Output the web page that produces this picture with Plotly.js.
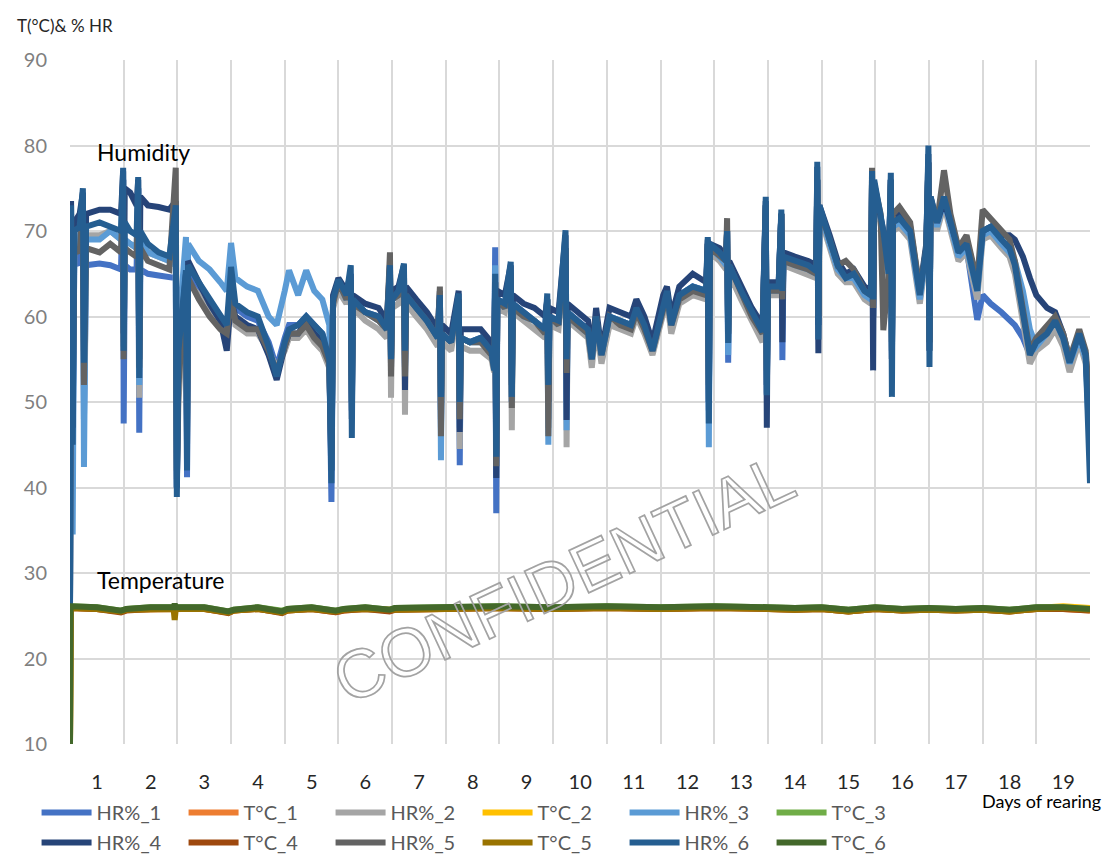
<!DOCTYPE html>
<html>
<head>
<meta charset="utf-8">
<script src="https://cdn.plot.ly/plotly-3.0.1.min.js"></script>
<style>
  html, body { margin: 0; padding: 0; background: #fff; }
  #chart { width: 1108px; height: 855px; }
  text[data-unformatted="CONFIDENTIAL"] { fill: none !important; stroke: #a3a3a3; stroke-width: 1.7px; }
</style>
</head>
<body>
<div id="chart"></div>
<script>
// ---- Data ----
const days = [0,0.02,0.05,0.08,0.18,0.24,0.26,0.30,0.55,0.75,
  0.95,0.99,1.00,1.02,1.12,1.24,1.27,1.29,1.31,1.45,
  1.65,1.85,1.97,1.99,2.02,2.10,2.16,2.18,2.20,2.40,
  2.60,2.80,2.92,3.00,3.08,3.30,3.50,3.70,3.85,4.00,
  4.08,4.25,4.40,4.55,4.70,4.83,4.87,4.90,5.00,5.15,
  5.23,5.25,5.27,5.50,5.75,5.90,5.96,5.98,6.00,6.12,
  6.22,6.24,6.26,6.45,6.65,6.85,6.89,6.91,6.93,7.10,
  7.24,7.26,7.28,7.45,7.65,7.85,7.90,7.92,7.94,7.96,
  8.10,8.21,8.23,8.25,8.45,8.65,8.85,8.89,8.91,8.93,
  9.10,9.23,9.25,9.27,9.45,9.65,9.72,9.80,9.90,10.05,
  10.25,10.45,10.55,10.70,10.85,11.05,11.12,11.20,11.35,11.60,
  11.85,11.88,11.90,11.92,12.10,12.22,12.24,12.26,12.28,12.50,
  12.70,12.90,12.96,12.98,13.00,13.20,13.25,13.27,13.29,13.50,
  13.75,13.90,13.92,13.94,13.96,14.15,14.30,14.45,14.60,14.80,
  14.92,14.94,14.96,14.98,15.10,15.15,15.25,15.29,15.31,15.33,
  15.45,15.65,15.83,15.95,15.99,16.01,16.03,16.15,16.28,16.40,
  16.55,16.70,16.82,16.90,17.00,17.15,17.35,17.50,17.60,17.75,
  17.88,18.00,18.20,18.35,18.50,18.62,18.80,18.92,18.97,19.00];

const hr1 = [26,69,44,67,66,73,48,66,66.2,66,
  65.5,76,47.5,66,65.5,65.5,75,46.4,65.5,65,
  64.8,64.5,64.5,40,54,61,65,41.2,65,63,
  61.5,60,59,63,61,60,59.5,57,54,57.5,
  59,59,60,59,58,55.5,38.3,62,64,62.5,
  64,49,62,60.5,60,58.5,65,55,62,62.5,
  65,54,62.5,61,59.5,57.5,62,47,58,57,
  62,42.6,57.5,57,57.5,56,54,68.1,37,62,
  61.5,65,50,61.5,60.5,59.5,58.5,62,48,60,
  59.5,68,50,60.5,59.5,58.5,55,60,55.5,60,
  59.5,59,61,59,56,61.5,63,59,62.5,63.5,
  63,68.5,49,68,67,66.5,70,54.6,66,63,
  60.5,58.2,73,52,63.5,63.5,72,54.9,66.5,66.5,
  66,65.3,76,59,72.5,69,66,64.5,65,63,
  62.5,76,60,75.5,71.5,69.5,65,76,55,70.5,
  71,69.5,62.5,68,78,57,73.5,70.5,73.5,70.5,
  67,68,63,59.6,62.5,61.5,60.5,59.5,59,57.5,
  55.5,57,58,59.5,57.5,54.6,58,55.5,48,46];

const hr2 = [26,71,48,69,69,73,50,69.5,69.5,70,
  69,76,57,69,68.5,68,75,50.5,69,67.5,
  67,66.5,66,41,50,60,64,46,64,62.5,
  60.5,58.5,57.5,62,59,58,58,56,54,56,
  57.5,57.5,58.5,57,56,54,43,61,63,61.5,
  64,52,61,59.5,58.5,57.5,66,50.5,61,61.5,
  65,48.5,61.5,60,58.5,56.5,62,48,57,56,
  62,44.5,56.5,56,56,55,53.5,64,44,61,
  60.5,65,46.7,60.5,59.5,58.5,57.5,62,47,59,
  58.5,68,44.7,59.5,58.5,57.5,54,59,54.5,59,
  58.5,58,60,58,55.5,60.5,62,58,61.5,62.5,
  62,68.5,50,67.5,66.5,65.5,70,57,65,62,
  59.5,57,72,52,62.5,62.5,72,61,66,65.5,
  65,64.5,76,59,72,68,65,64,64,62,
  61.5,76,60,75,71,69,64.5,75.5,56,70,
  70.5,69,61.5,67,78,56,73,70,73,70,
  66.5,67.5,64.5,62,69,69.5,68,67,65,59,
  54.5,56,57,58.5,56.5,53.5,57,54.5,50,47];

const hr3 = [26,70,34.5,68,68.5,73,42.4,69,69,70,
  69,76,56.5,69,68.5,68,75,52,69,67.5,
  67,66.5,66,40,58,64,69.3,47,68.5,66.5,
  65.5,64,63,68.6,64.5,63.5,63,60,59,63,
  65.4,62.5,65.4,63,62,59,42,62,64,62,
  64,50,62,60.5,59.5,58.5,65,55,62,62.5,
  65,54,62.5,61,59.5,57.5,62,43.2,58,57,
  62,47,57.5,57,57,56,54,66,44,62,
  61,65,50,61.5,60,59.5,58.5,62,45,60,
  59,68,46.7,60,59,58,55,60,55.5,60,
  59.5,59,61,59,56,61.5,62.5,59,62.5,63.5,
  63,68.5,44.7,68,67,66,70,55.5,66,63,
  60.5,58,73,51,63,63,72,60,66.5,66,
  65.5,65,76,59,72.5,68.5,65.5,64.5,64.5,62.5,
  62,76.5,60,75.5,71.5,69.5,65,76,56,70.5,
  71,69.5,62,67.5,78,57,73.5,70.5,73.5,70.5,
  67,68,65,63,69.5,70,68.5,67.5,66.5,63,
  58.5,56.5,58,59.5,57.5,54.5,57.5,55,48,46];

const hr4 = [26,73.5,47,71,72,74.5,56,72,72.5,72.5,
  72,77,58,75,74.5,73,76,55,74,73,
  72.8,72.5,73.5,40,55,62,65,45,66.5,64,
  61.5,59.5,56,62,60,59,58.5,55.5,52.6,56.5,
  58,58,59.5,58,57,55,42,62.5,64.5,63,
  65,48,62.5,61.5,61,59.5,66,54,63,63.5,
  66,51.4,63.5,62,60.5,58.5,63,49,59,58,
  63,46.5,58.5,58.5,58.5,57,54.5,64,41.1,63,
  62.5,66,52,62.5,61.5,61,60,62,50,61,
  60.5,69.5,47.9,61.5,60.5,59.5,55.5,61,56,61,
  60.5,60,62,60,57,62.5,63.5,60,63.5,65,
  64,69,50,68.5,68,67,70,58,66.5,63.5,
  61,59,73.5,47,64,64,72,57,67.5,67,
  66.5,66,77.5,55.7,73,69.5,66.5,65,65.5,63.5,
  63,76,53.7,75.5,72,70,65.5,76,55,71.5,
  72,70.5,63,68.5,79,56,74,71,73.5,71,
  68,69,66,64,70,70.5,69.5,69.5,69,67,
  64.5,62.5,61,60.5,58,55,58,55.5,50,45];

const hr5 = [26,72,50,68,67.5,73,52,68,67.5,68.5,
  67.5,75,55,68,67.5,67,74,54,68,66.5,
  66,65.5,77.4,42,52,60,64,48,64.5,62,
  60,58.5,58,62,59.5,58.5,58.5,56,53.5,56.5,
  58,58,59,57.5,56.5,54.5,44,61.5,64,62,
  64,50,61.5,60.5,59.5,58.5,67.5,53,62,62.5,
  65.5,53,62.5,61,59.5,57.5,63.5,46,58,57,
  62,48,57.5,57,57,55.5,54,64,42.5,62,
  61,65,49.3,61,60,59.5,58,62,46,60,
  59,68,53.4,60,59,58,55,60,55.5,60,
  59,58.5,60.5,58.5,56,61,62.5,59,62,63,
  62.5,68.5,52,68,67,66.5,71.5,58,66,63,
  60,58,73,53.7,63,63,72,62,66.5,66,
  65.5,65,76,60,72.5,69,66,66.5,65.5,63,
  62.5,77.4,61,75.5,72,58.4,65,76,57,72,
  72.8,71,63,68,78,57,73.5,71,77.1,72,
  68,69.5,66.5,64,72.5,71.5,70,69,66.5,60.5,
  56,57.5,59,60,58,55,58.5,56,52,47];

const hr6 = [26,73,45,70,70.5,75,54.6,70.5,71,70.5,
  70,77.4,56,71,70,69.5,76.3,52.8,70,68.5,
  67.5,67,73,38.9,56,62,65.4,42,66,64,
  62,60,59,65.8,61.5,60.5,60,56.5,53,57,
  58.5,59,60,59,58,55,40.5,62,64.3,62.5,
  66,45.8,62,60.5,60,58.5,66,55,62,63,
  66.2,56,62.5,61,59.5,57.5,62.5,50.6,58,57,
  62.7,50,57.5,57,57.5,56,53.7,65,43.6,62,
  61.5,66.4,50.6,61.5,60.5,59.5,58.5,62.7,52,60,
  59.5,70.1,55,60.5,59.5,58.5,55,60,55.5,60,
  59.5,59,61,59,56,61.5,63,59,62.5,63.5,
  63,69.3,47.5,68.5,67.5,66.5,70,56.9,66,63,
  60.5,58.2,74,50.8,63.5,63.5,72.5,63,67,66.5,
  66,65.3,78.1,57.3,73,69,66,64.5,65,63,
  62.5,77,62,76,72,70,65,76.8,50.6,71,
  71.5,70,62.5,68,80,54.1,74,71,74,71,
  67.5,68.5,65.5,63,70,70.5,69,68,66,60,
  55.5,57,58,59.5,57.5,54.6,58,55.5,48,40.5];

const tDays = [0,0.01,0.5,0.95,1.05,1.5,1.93,1.95,1.97,2.1,
  2.5,2.95,3.05,3.5,3.95,4.05,4.5,4.95,5.1,5.5,
  5.95,6.05,7,8,9,10,11,12,13,13.5,
  14,14.5,15,15.5,16,16.5,17,17.5,18,18.5,19];

const t1 = [10,25.9,25.8,25.5,25.7,25.8,25.8,25.9,25.8,25.8,
  25.8,25.4,25.6,25.8,25.4,25.6,25.8,25.4,25.6,25.8,
  25.6,25.7,25.8,25.9,25.8,25.9,25.8,25.9,25.8,25.7,
  25.8,25.5,25.8,25.6,25.7,25.6,25.7,25.5,25.8,25.8,25.6];
const t2 = [10,26.0,25.9,25.5,25.7,25.9,25.9,26.0,25.9,25.9,
  25.9,25.4,25.6,25.9,25.4,25.7,25.9,25.5,25.7,25.9,
  25.6,25.8,25.9,26.0,25.9,26.0,25.9,26.0,25.9,25.8,
  25.9,25.6,25.9,25.7,25.8,25.7,25.8,25.6,25.9,26.1,25.9];
const t3 = [10,26.1,26.0,25.6,25.8,26.0,26.0,26.1,26.0,26.0,
  26.0,25.5,25.7,26.0,25.6,25.8,26.0,25.6,25.8,26.0,
  25.7,25.9,26.0,26.1,26.0,26.1,26.0,26.1,26.0,25.9,
  26.0,25.7,26.0,25.8,25.9,25.8,25.9,25.7,26.0,26.0,25.8];
const t4 = [10,25.9,25.8,25.4,25.6,25.8,25.8,25.8,25.8,25.8,
  25.8,25.3,25.6,25.8,25.3,25.6,25.8,25.4,25.6,25.8,
  25.5,25.7,25.8,25.9,25.8,25.9,25.8,25.9,25.8,25.7,
  25.8,25.5,25.8,25.6,25.7,25.6,25.7,25.5,25.8,25.8,25.6];
const t5 = [10,25.9,25.8,25.5,25.7,25.8,25.8,24.5,25.8,25.8,
  25.8,25.4,25.6,25.8,25.4,25.6,25.8,25.5,25.7,25.8,
  25.6,25.7,25.8,25.9,25.8,25.9,25.8,25.9,25.8,25.7,
  25.8,25.5,25.8,25.6,25.7,25.6,25.7,25.5,25.8,25.9,25.7];
const t6 = [10,26.1,26.0,25.6,25.8,26.0,26.0,26.4,26.0,26.0,
  26.0,25.5,25.7,26.0,25.5,25.8,26.0,25.6,25.8,26.0,
  25.7,25.9,26.0,26.1,26.0,26.1,26.0,26.1,26.0,25.9,
  26.0,25.7,26.0,25.8,25.9,25.8,25.9,25.7,26.0,26.0,25.8];

const seriesNames = ['HR%_1','T°C_1','HR%_2','T°C_2','HR%_3','T°C_3',
                     'HR%_4','T°C_4','HR%_5','T°C_5','HR%_6','T°C_6'];
const xTickLabels = ['1','2','3','4','5','6','7','8','9','10',
                     '11','12','13','14','15','16','17','18','19'];
const dayBoundaries = [0,1,2,3,4,5,6,7,8,9,10,11,12,13,14,15,16,17,18,19];

// ---- Styling ----
const colors = ['#4472C4','#ED7D31','#A5A5A5','#FFC000','#5B9BD5','#70AD47',
                '#264478','#9E480E','#636363','#997300','#255E91','#43682B'];
const seriesX = [days, tDays, days, tDays, days, tDays, days, tDays, days, tDays, days, tDays];
const seriesY = [hr1, t1, hr2, t2, hr3, t3, hr4, t4, hr5, t5, hr6, t6];

const traces = seriesNames.map((name, i) => ({
  type: 'scatter',
  mode: 'lines',
  name: name,
  x: seriesX[i],
  y: seriesY[i],
  line: { color: colors[i], width: 6 },
  legend: i < 6 ? 'legend' : 'legend2',
  hoverinfo: 'skip'
}));

const FONT = 'Lato, "Open Sans", sans-serif';
const legendBase = {
  orientation: 'h',
  xref: 'container',
  yref: 'container',
  xanchor: 'left',
  yanchor: 'top',
  x: 0.033,
  font: { family: FONT, size: 20, color: '#595959' },
  bgcolor: 'rgba(0,0,0,0)',
  entrywidth: 82,
  entrywidthmode: 'pixels',
  itemwidth: 50,
  traceorder: 'normal'
};

const layout = {
  width: 1108,
  height: 855,
  margin: { l: 70, r: 18, t: 60, b: 111 },
  paper_bgcolor: '#ffffff',
  plot_bgcolor: '#ffffff',
  font: { family: FONT, color: '#404040' },
  showlegend: true,
  legend: Object.assign({}, legendBase, { y: 0.0725 }),
  legend2: Object.assign({}, legendBase, { y: 0.0375 }),
  xaxis: {
    range: [0, 19],
    tickmode: 'array',
    tickvals: dayBoundaries,
    ticktext: xTickLabels.concat(['']),
    ticklabelshift: 27,
    ticklabelstandoff: 24,
    ticks: '',
    showgrid: true,
    gridcolor: '#d9d9d9',
    gridwidth: 2,
    zeroline: false,
    showline: false,
    automargin: false,
    tickfont: { family: FONT, size: 20, color: '#262626' },
    fixedrange: true
  },
  yaxis: {
    range: [10, 90],
    tickmode: 'linear',
    tick0: 10,
    dtick: 10,
    ticks: '',
    ticklabelstandoff: 22,
    showgrid: true,
    gridcolor: '#d9d9d9',
    gridwidth: 2,
    zeroline: false,
    showline: false,
    automargin: false,
    tickfont: { family: FONT, size: 20, color: '#7f7f7f' },
    fixedrange: true
  },
  annotations: [
    { xref: 'paper', yref: 'paper', x: -0.054, y: 1.051, xanchor: 'left', yanchor: 'middle',
      text: 'T(°C)& % HR', showarrow: false, font: { family: FONT, size: 17, color: '#262626' } },
    { xref: 'x', yref: 'y', x: 0.47, y: 79.2, xanchor: 'left', yanchor: 'middle',
      text: 'Humidity', showarrow: false, font: { family: FONT, size: 23, color: '#000000' } },
    { xref: 'x', yref: 'y', x: 0.47, y: 29.2, xanchor: 'left', yanchor: 'middle',
      text: 'Temperature', showarrow: false, font: { family: FONT, size: 23, color: '#000000' } },
    { xref: 'paper', yref: 'paper', x: 1.0127, y: -0.083, xanchor: 'right', yanchor: 'middle',
      text: 'Days of rearing', showarrow: false, font: { family: FONT, size: 18, color: '#000000' } },
    { xref: 'x', yref: 'y', x: 9.2, y: 29.4, xanchor: 'center', yanchor: 'middle',
      text: 'CONFIDENTIAL', showarrow: false, textangle: -25,
      font: { family: '"Liberation Sans", Arial, sans-serif', size: 68, color: 'rgba(255,255,255,0)' } }
  ]
};

Plotly.newPlot('chart', traces, layout, { displayModeBar: false, staticPlot: true });
</script>
</body>
</html>
